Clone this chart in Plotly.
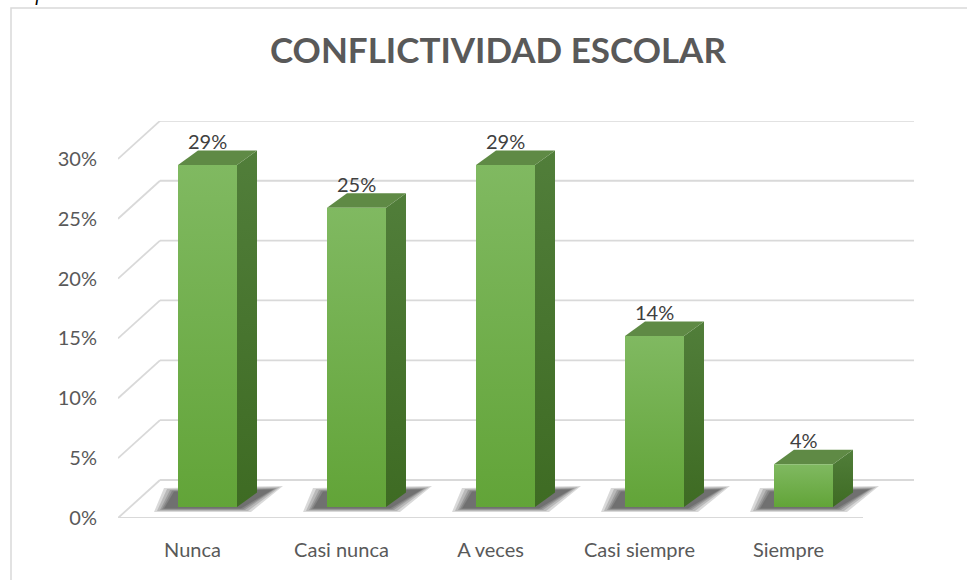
import plotly.graph_objects as go

# ---------------- data ----------------
categories = ["Nunca", "Casi nunca", "A veces", "Casi siempre", "Siempre"]
values = [28.57, 25.0, 28.57, 14.29, 3.57]          # percent
data_labels = ["29%", "25%", "29%", "14%", "4%"]
y_ticks = [0, 5, 10, 15, 20, 25, 30]
y_tick_labels = ["0%", "5%", "10%", "15%", "20%", "25%", "30%"]
title_text = "CONFLICTIVIDAD ESCOLAR"
caption_text = "Conflictividad escolar actual en la institución educativa"

# ---------------- geometry / style ----------------
W, H = 967, 580
ML, MR, MT, MB = 118, 53, 121, 62
PX_X = 149.0            # pixels per category unit
PX_Y = 11.97            # pixels per percent
DX = 42 / PX_X          # depth of the box (x units)
DY = 38 / PX_Y          # depth of the box (y units)
BAR_W = 59 / PX_X
FACE_DX = 15 / PX_X
FACE_DY = 11 / PX_Y
BAR_DX = 20 / PX_X
BAR_DY = 14.5 / PX_Y
X_MIN = -0.5
X_MAX = (W - MR - ML) / PX_X - 0.5
Y_MAX = (H - MB - MT) / PX_Y
PW = W - ML - MR
PH = H - MT - MB

GRID = "#d9d9d9"
FONT = "Lato"

fig = go.Figure()


def line(xs, ys, color=GRID, width=1.8):
    fig.add_trace(go.Scatter(x=xs, y=ys, mode="lines",
                             line=dict(color=color, width=width),
                             hoverinfo="skip", showlegend=False))


def poly(xs, ys, color=None, gradient=None):
    kw = dict(fillcolor=color) if color else dict(fillgradient=gradient)
    fig.add_trace(go.Scatter(x=xs + [xs[0]], y=ys + [ys[0]], mode="lines", fill="toself",
                             line=dict(width=0, color="rgba(0,0,0,0)"),
                             hoverinfo="skip", showlegend=False, **kw))


# back wall gridlines + left wall slants
for t in y_ticks:
    line([X_MIN + DX, X_MAX], [t + DY, t + DY])
    line([X_MIN, X_MIN + DX], [t, t + DY])
# floor front edge
line([X_MIN, X_MIN + len(categories)], [0, 0])

# shadows + bars
for i, v in enumerate(values):
    xl = i - BAR_W / 2 + FACE_DX
    xr = xl + BAR_W
    y0 = FACE_DY
    # soft shadow on the floor (layered to fake a blur)
    for e in [10, 7, 4, 2, 0]:
        ex = e / PX_X
        ey = e * 0.35 / PX_Y
        poly([xl - 14 / PX_X - ex, xr + 4 / PX_X + ex,
              xr + BAR_DX + 16 / PX_X + ex, xl - 4 / PX_X - ex],
             [y0 - 1.5 / PX_Y - ey, y0 - 1.5 / PX_Y - ey,
              y0 + BAR_DY + 3 / PX_Y + ey, y0 + BAR_DY + 1 / PX_Y + ey],
             color="rgba(0,0,0,0.15)")
    # side face
    poly([xr, xr + BAR_DX, xr + BAR_DX, xr],
         [y0, y0 + BAR_DY, y0 + BAR_DY + v, y0 + v],
         gradient=dict(type="vertical", colorscale=[[0, "#3e6b23"], [1, "#517e3a"]]))
    # top face
    poly([xl, xr, xr + BAR_DX, xl + BAR_DX],
         [y0 + v, y0 + v, y0 + v + BAR_DY, y0 + v + BAR_DY],
         color="#5f8a45")
    # front face
    poly([xl, xr, xr, xl],
         [y0, y0, y0 + v, y0 + v],
         gradient=dict(type="vertical", colorscale=[[0, "#62a438"], [1, "#80b961"]]))
    # data label
    fig.add_annotation(x=(xl + xr) / 2, y=y0 + v, text=data_labels[i], showarrow=False,
                       yshift=24, font=dict(family=FONT, size=20, color="#404040"))

# title
fig.add_annotation(xref="paper", yref="paper", x=(497.5 - ML) / PW,
                   y=(H - MB - 49) / PH, text="<b>" + title_text + "</b>",
                   showarrow=False, xanchor="center", yanchor="middle",
                   font=dict(family=FONT, size=35, color="#595959"))
# cut-off caption above chart frame (only its lower edge shows, as in the source)
fig.add_annotation(xref="paper", yref="paper", x=(0 - ML) / PW,
                   y=(H - MB + 6) / PH, text="<i>" + caption_text + "</i>",
                   showarrow=False, xanchor="left", yanchor="middle",
                   font=dict(family="Liberation Serif", size=20, color="#000000"))

# chart frame
fig.add_shape(type="rect", xref="paper", yref="paper",
              x0=(11 - ML) / PW, x1=(W + 10 - ML) / PW,
              y0=(H - MB - (H + 10)) / PH, y1=(H - MB - 8) / PH,
              line=dict(color="#d9d9d9", width=1.5), layer="below")

fig.update_layout(
    width=W, height=H, template="none",
    margin=dict(l=ML, r=MR, t=MT, b=MB, pad=0),
    paper_bgcolor="white", plot_bgcolor="rgba(0,0,0,0)",
    showlegend=False,
    xaxis=dict(range=[X_MIN, X_MAX], tickvals=list(range(len(categories))), ticktext=categories,
               showgrid=False, zeroline=False, showline=False, ticks="", automargin=False,
               ticklabelstandoff=18, tickfont=dict(family=FONT, size=20, color="#595959"),
               fixedrange=True),
    yaxis=dict(range=[0, Y_MAX], tickvals=y_ticks, ticktext=y_tick_labels,
               showgrid=False, zeroline=False, showline=False, ticks="", automargin=False,
               ticklabelstandoff=20, tickfont=dict(family=FONT, size=20, color="#595959"),
               fixedrange=True),
)

fig.write_html("out.html", config={"displayModeBar": False},
               post_script="document.body.style.margin='0px';")
